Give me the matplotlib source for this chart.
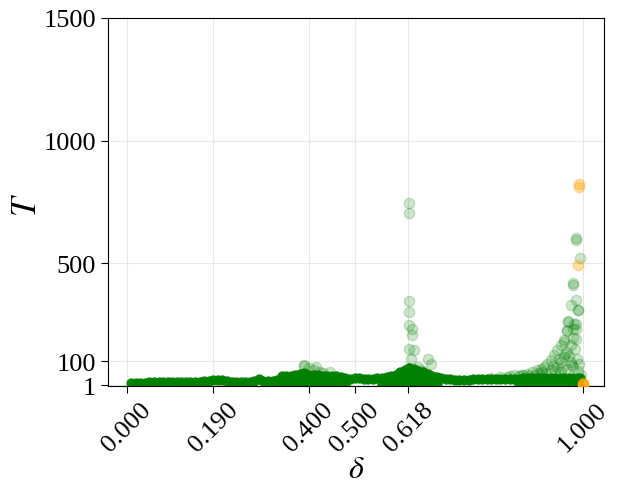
import matplotlib
matplotlib.use("Agg")
import matplotlib.pyplot as plt

plt.rcParams['font.family'] = ['Liberation Serif', 'DejaVu Serif']
plt.rcParams['mathtext.fontset'] = 'stix'

# ---- dense band (upper edge of the solid green band) ----
band_delta = [0.01, 0.02, 0.03, 0.04, 0.05, 0.06, 0.07, 0.08, 0.09, 0.10,
              0.11, 0.12, 0.13, 0.14, 0.15, 0.16, 0.17, 0.18, 0.19, 0.20,
              0.21, 0.22, 0.23, 0.24, 0.25, 0.26, 0.27, 0.28, 0.29, 0.30,
              0.31, 0.32, 0.33, 0.34, 0.35, 0.36, 0.37, 0.38, 0.39, 0.40,
              0.41, 0.42, 0.43, 0.44, 0.45, 0.46, 0.47, 0.48, 0.49, 0.50,
              0.51, 0.52, 0.53, 0.54, 0.55, 0.56, 0.57, 0.58, 0.59, 0.60,
              0.61, 0.62, 0.63, 0.64, 0.65, 0.66, 0.67, 0.68, 0.69, 0.70,
              0.71, 0.72, 0.73, 0.74, 0.75, 0.76, 0.77, 0.78, 0.79, 0.80,
              0.81, 0.82, 0.83, 0.84, 0.85, 0.86, 0.87, 0.88, 0.89, 0.90,
              0.91, 0.92, 0.93, 0.94, 0.95, 0.96, 0.97, 0.98, 0.99, 0.995]
band_T = [12, 12, 12, 12, 13, 13, 13, 13, 14, 14,
          14, 14, 15, 15, 15, 16, 18, 20, 22, 24,
          22, 18, 15, 14, 14, 14, 15, 20, 26, 20,
          17, 18, 24, 38, 41, 40, 44, 48, 52, 45,
          44, 42, 40, 40, 40, 38, 34, 30, 29, 30,
          30, 29, 29, 29, 30, 33, 35, 38, 45, 55,
          65, 71, 66, 60, 55, 48, 40, 35, 30, 27,
          25, 24, 24, 24, 24, 25, 25, 25, 26, 26,
          26, 27, 27, 28, 28, 29, 30, 30, 30, 31,
          31, 31, 32, 32, 32, 32, 33, 33, 32, 30]
# lower row filling the band where its top lies high
fill_delta = [0.33, 0.34, 0.35, 0.36, 0.37, 0.38, 0.39, 0.40, 0.41, 0.42,
              0.43, 0.44, 0.45, 0.46, 0.47, 0.48, 0.56, 0.57, 0.58, 0.59,
              0.60, 0.61, 0.62, 0.63, 0.64, 0.65, 0.66, 0.67, 0.68,
              0.86, 0.88, 0.90, 0.92, 0.94, 0.96, 0.98, 0.99]
fill_T = [8, 8, 8, 8, 8, 8, 8, 8, 8, 8,
          8, 8, 8, 8, 8, 8, 8, 8, 8, 8,
          8, 8, 8, 8, 8, 8, 8, 8, 8,
          8, 8, 8, 8, 8, 8, 8, 8]
mid_delta = [0.60, 0.61, 0.62, 0.63, 0.64, 0.65, 0.38, 0.39]
mid_T = [35, 38, 40, 38, 35, 32, 28, 30]

# ---- sparse green points (outliers, translucent) ----
green_delta = [0.388, 0.39, 0.40, 0.41, 0.415, 0.425, 0.43, 0.447,
               0.619, 0.619, 0.619, 0.619, 0.619, 0.625, 0.626, 0.619, 0.63,
               0.624, 0.66, 0.667, 0.64, 0.645, 0.635, 0.65, 0.62, 0.61, 0.60,
               0.835, 0.85, 0.864, 0.879, 0.89, 0.90, 0.908, 0.915, 0.923,
               0.93, 0.93, 0.937, 0.944, 0.944, 0.952, 0.952, 0.952, 0.959,
               0.959, 0.966, 0.966, 0.966, 0.968, 0.974, 0.974, 0.98, 0.98,
               0.985, 0.985, 0.988, 0.99,
               0.985, 0.985, 0.994, 0.98, 0.98, 0.985, 0.974, 0.99, 0.969,
               0.982, 0.966, 0.986, 0.98, 0.959,
               0.80, 0.82, 0.84, 0.86, 0.87, 0.88, 0.895, 0.905, 0.912,
               0.92, 0.935, 0.94, 0.948, 0.955, 0.962, 0.97, 0.976, 0.983,
               0.99, 0.993, 0.996]
green_T = [80, 86, 70, 63, 78, 57, 50, 57,
           747, 706, 346, 301, 246, 233, 208, 151, 144,
           110, 110, 90, 77, 65, 60, 55, 70, 55, 50,
           36, 42, 42, 49, 56, 62, 69, 76, 90,
           103, 62, 124, 144, 76, 164, 97, 56, 185,
           117, 226, 137, 69, 260, 164, 97, 233, 76,
           253, 192, 110, 307,
           604, 596, 522, 420, 410, 351, 328, 310, 264,
           253, 222, 233, 195, 178,
           32, 34, 38, 40, 45, 38, 44, 50, 55,
           48, 80, 60, 110, 70, 130, 120, 85, 150,
           60, 90, 45]

# ---- orange points ----
orange_delta = [0.993, 0.993, 0.989, 1.0, 1.0, 1.0, 1.0, 1.0]
orange_T = [824, 811, 491, 1, 3, 5, 8, 12]

xticks = [0.0, 0.19, 0.4, 0.5, 0.618, 1.0]
xticklabels = ['0.000', '0.190', '0.400', '0.500', '0.618', '1.000']
yticks = [1, 100, 500, 1000, 1500]

fig = plt.figure(figsize=(6.22, 5.02), dpi=100)
ax = fig.add_axes([0.1736, 0.2291, 0.7974, 0.7331])

ax.grid(True, color='#e8e8e8', linewidth=0.8, zorder=0)
ax.set_axisbelow(True)

ms = 55
ax.scatter(fill_delta, fill_T, s=ms, color='green', alpha=0.95, linewidths=0, zorder=2)
ax.scatter(mid_delta, mid_T, s=ms, color='green', alpha=0.95, linewidths=0, zorder=2)
ax.scatter(band_delta, band_T, s=ms, color='green', alpha=0.95, linewidths=0, zorder=2)
ax.scatter(green_delta, green_T, s=ms, color='green', alpha=0.2, zorder=3)
ax.scatter(orange_delta, orange_T, s=ms, color='orange', alpha=0.35, zorder=4)

ax.set_xlim(-0.041, 1.047)
ax.set_ylim(-1.5, 1500)
ax.set_xticks(xticks)
ax.set_xticklabels(xticklabels, rotation=45)
ax.set_yticks(yticks)
ax.tick_params(labelsize=19, length=5)
ax.set_xlabel(r'$\delta$', fontsize=23, labelpad=0)
ax.set_ylabel(r'$T$', fontsize=25)
ax.yaxis.set_label_coords(-0.13, 0.495)

fig.savefig('out.png', dpi=100)
